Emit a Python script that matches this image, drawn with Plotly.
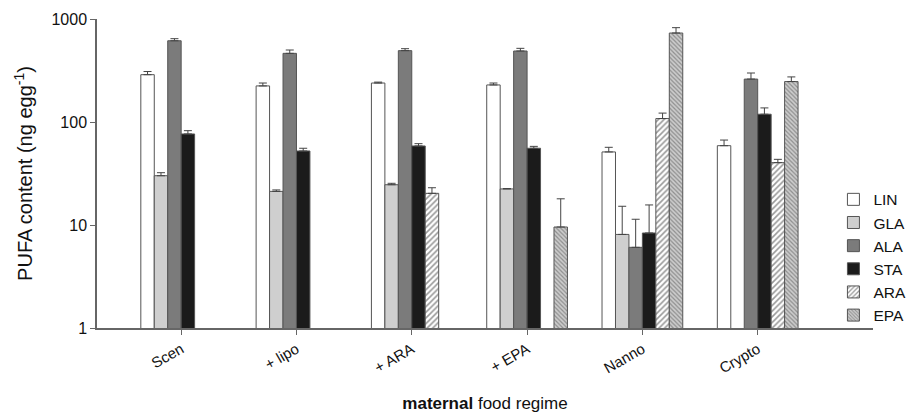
import plotly.graph_objects as go

categories = ["Scen", "+ lipo", "+ ARA", "+ EPA", "Nanno", "Crypto"]
series_names = ["LIN", "GLA", "ALA", "STA", "ARA", "EPA"]

LIN = [288, 224, 239, 229, 51.2, 58.9]
GLA = [30.1, 21.2, 24.6, 22.4, 8.1, None]
ALA = [615, 464, 493, 489, 6.07, 261]
STA = [76.5, 52.3, 58.5, 55.6, 8.36, 119]
ARA = [None, None, 20.3, None, 108, 40.3]
EPA = [None, None, None, 9.56, 731, 247]

LIN_err = [21, 15, 5, 10, 5.6, 7.9]
GLA_err = [2.1, 0.7, 0.8, 0.2, 7.1, None]
ALA_err = [29, 36, 22, 30, 5.3, 38]
STA_err = [5.9, 3.3, 3.1, 2.4, 7.3, 18]
ARA_err = [None, None, 2.7, None, 14, 3.1]
EPA_err = [None, None, None, 8.4, 93, 27]

values = [LIN, GLA, ALA, STA, ARA, EPA]
errors = [LIN_err, GLA_err, ALA_err, STA_err, ARA_err, EPA_err]

styles = [
    dict(color="white", pattern=None),
    dict(color="#cfcfcf", pattern=None),
    dict(color="#7b7b7b", pattern=None),
    dict(color="#1b1b1b", pattern=None),
    dict(color="white", pattern=dict(shape="/", fgcolor="#333333", bgcolor="white", size=4, solidity=0.4)),
    dict(color="#c4c4c4", pattern=dict(shape="\\", fgcolor="#505050", bgcolor="#cccccc", size=3, solidity=0.4)),
]

xpos = list(range(len(categories)))

fig = go.Figure()
for name, vals, errs, st in zip(series_names, values, errors, styles):
    marker = dict(color=st["color"], line=dict(color="#555555", width=1))
    if st["pattern"]:
        marker["pattern"] = st["pattern"]
    fig.add_trace(go.Bar(
        name=name, x=xpos, y=vals,
        marker=marker,
        error_y=dict(type="data", array=errs, arrayminus=[0]*len(errs),
                     symmetric=False, color="#444444", thickness=1, width=4),
    ))

fig.update_layout(
    width=909, height=406,
    margin=dict(l=89, r=44, t=11, b=86, autoexpand=False),
    paper_bgcolor="white", plot_bgcolor="white",
    barmode="group", bargap=0.3, bargroupgap=0,
    font=dict(family="Liberation Sans, Arial, sans-serif", size=15, color="#111111"),
    legend=dict(x=0.949, y=0.47, xanchor="left", yanchor="top",
                font=dict(size=15.5), tracegroupgap=0, bgcolor="rgba(0,0,0,0)",
                borderwidth=0),
    showlegend=True,
)
fig.update_xaxes(
    range=[-0.73, 6.0], tickvals=xpos, ticktext=categories, tickangle=-30,
    showline=True, linecolor="#666666", linewidth=1.5,
    ticks="outside", ticklen=5, tickcolor="#666666",
    showgrid=False, zeroline=False,
    tickfont=dict(size=15),
    title=dict(text="<b>maternal</b> food regime", font=dict(size=17), standoff=22),
)
fig.update_yaxes(
    type="log", range=[0, 3], tickvals=[1, 10, 100, 1000], ticktext=["1", "10", "100", "1000"],
    showline=True, linecolor="#666666", linewidth=1.5,
    ticks="outside", ticklen=5, tickcolor="#666666",
    showgrid=False, zeroline=False,
    tickfont=dict(size=16),
    title=dict(text="PUFA content (ng egg<sup>-1</sup>)", font=dict(size=20), standoff=13),
)

fig.write_html("out.html")
